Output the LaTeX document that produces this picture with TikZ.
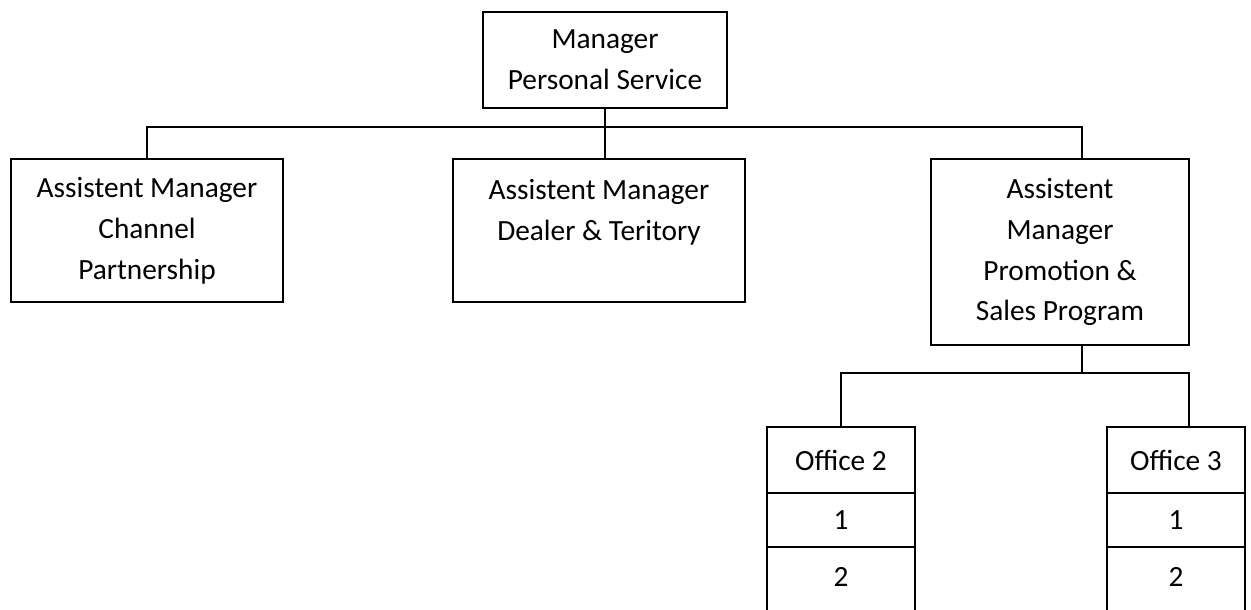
\documentclass[tikz,border=0pt]{standalone}
\usepackage{fontspec}
\setmainfont{Carlito}
\begin{document}
\begin{tikzpicture}[x=0.02cm,y=-0.02cm,line width=0.85pt,
  box/.style={draw, align=center, inner sep=0pt, font=\fontsize{16.7}{23.3}\selectfont}]
  \clip (0,0) rectangle (1251,609);
  \node[box, minimum width=4.88cm, minimum height=1.92cm] (mgr) at (605,60) {Manager\\Personal Service};
  \node[box, minimum width=5.44cm, minimum height=2.86cm] (chan) at (147,230.5) {Assistent Manager\\Channel\\Partnership};
  \node[box, minimum width=5.84cm, minimum height=2.86cm] (deal) at (599,230.5) {Assistent Manager\\Dealer \& Teritory\\\mbox{}};
  \node[box, minimum width=5.16cm, minimum height=3.72cm] (prom) at (1060,252) {Assistent\\Manager\\Promotion \&\\Sales Program};
  \foreach \n/\cx/\w in {2/841/2.96, 3/1176/2.76} {
    \node[box, minimum width=\w cm, minimum height=1.32cm] (off\n) at (\cx,460) {Office \n};
    \node[box, minimum width=\w cm, minimum height=1.08cm] (off\n a) at (\cx,520) {1};
    \node[box, minimum width=\w cm, minimum height=2.4cm, text depth=1.2cm] (off\n b) at (\cx,607) {2};
  }
  \coordinate (hub) at (605,127);
  \coordinate (ptop) at (1082,159);
  \coordinate (pbot) at (1082,345);
  \coordinate (sub) at (1082,373);
  \coordinate (o3top) at (1189,427);
  \draw (mgr.south) -- (mgr.south |- deal.north);
  \draw (chan.north) |- (ptop |- hub) -- (ptop);
  \draw (pbot) -- (sub);
  \draw (off2.north) |- (o3top |- sub) -- (o3top);
\end{tikzpicture}
\end{document}
